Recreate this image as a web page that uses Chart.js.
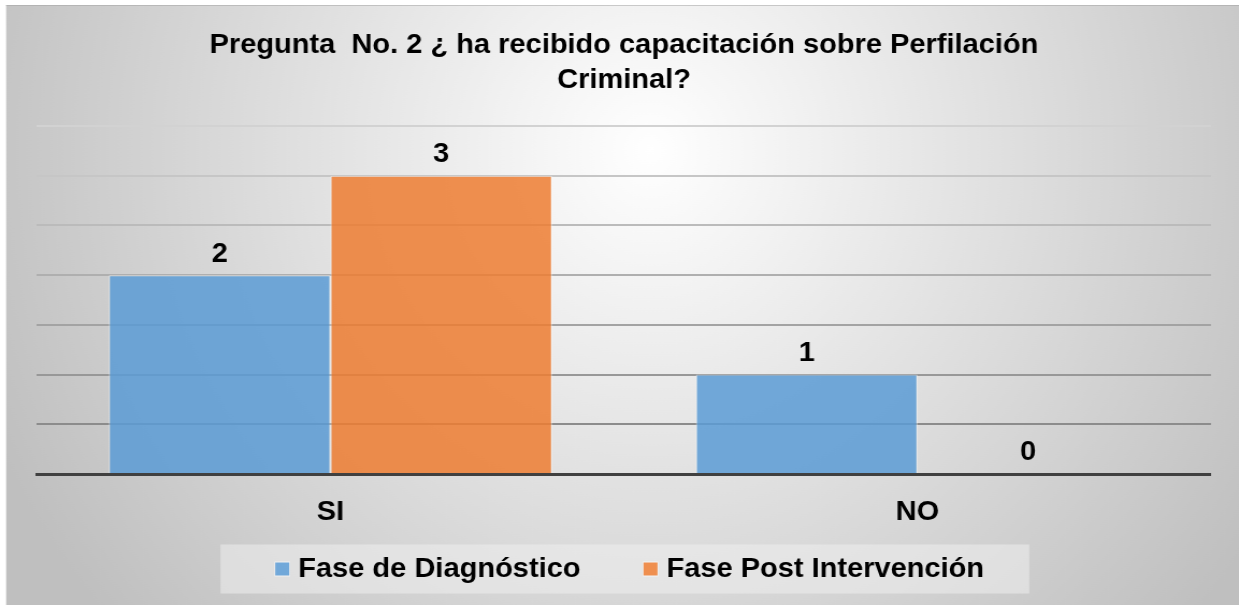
<!DOCTYPE html>
<html>
<head>
<meta charset="utf-8">
<title>Pregunta No. 2</title>
<script src="https://cdn.jsdelivr.net/npm/chart.js@4"></script>
<style>
  body { margin: 0; background: #ffffff; }
  #grafico { display: block; }
</style>
</head>
<body>
<!-- el original esta un poco estirado a lo ancho: se dibuja a 1153px y se muestra a 1239px -->
<canvas id="grafico" width="1153" height="605" style="width:1239px;height:605px"></canvas>
<script>
// datos del grafico
const categorias = ["SI", "NO"];
const diagnostico = [2, 1];
const postIntervencion = [3, 0];
const series = ["Fase de Diagnóstico", "Fase Post Intervención"];
const tituloLineas = ["Pregunta  No. 2 ¿ ha recibido capacitación sobre Perfilación", "Criminal?"];

const fuente = "'Liberation Sans', Arial, sans-serif";
const estiramiento = 1239 / 1153;

// fondo degradado
const fondoPlugin = {
    id: 'fondo',
    beforeDraw(chart) {
        const ctx = chart.ctx;
        const w = chart.width, h = chart.height;
        ctx.save();
        ctx.fillStyle = '#ffffff';
        ctx.fillRect(0, 0, w, h);
        ctx.translate(605, 150);
        ctx.scale(1 / estiramiento, 1);
        const g = ctx.createRadialGradient(0, 0, 0, 0, 0, 720);
        g.addColorStop(0, '#ffffff');
        g.addColorStop(1, '#bfbfbf');
        ctx.fillStyle = g;
        ctx.fillRect(-650 + 6, -150 + 5, 1239, 605);
        ctx.restore();
        ctx.save();
        ctx.fillStyle = 'rgba(160,160,160,0.5)';
        ctx.fillRect(5.6, 5, w, 1);
        ctx.restore();
    }
};

// leyenda propia (la de Chart.js no deja separar el espacio horizontal del vertical)
const leyendaPlugin = {
    id: 'leyendaPropia',
    afterDraw(chart) {
        const ctx = chart.ctx;
        const cy = chart.height - 36;
        const cuadro = 13, hueco = 8.4, separacion = 58.7;
        ctx.save();
        ctx.font = "bold 27px " + fuente;
        const anchos = chart.data.datasets.map(ds => ctx.measureText(ds.label).width);
        let total = 0;
        anchos.forEach((a, i) => { total += cuadro + hueco + a + (i ? separacion : 0); });
        let x = 586 - total / 2;
        ctx.fillStyle = 'rgba(238,238,238,0.55)';
        ctx.fillRect(x - 51, cy - 24.5, total + 51 + 42, 49);
        ctx.textBaseline = 'middle';
        ctx.textAlign = 'left';
        chart.data.datasets.forEach((ds, i) => {
            ctx.fillStyle = 'rgba(255,255,255,0.6)';
            ctx.fillRect(x - 0.7, cy - 7.5, cuadro + 1.4, 15);
            ctx.fillStyle = ds.backgroundColor;
            ctx.fillRect(x, cy - 6.5, cuadro, 13);
            ctx.fillStyle = '#000000';
            ctx.fillText(ds.label, x + cuadro + hueco, cy + 1);
            x += cuadro + hueco + anchos[i] + separacion;
        });
        ctx.restore();
    }
};

// etiquetas de valor encima de cada barra
const etiquetasPlugin = {
    id: 'etiquetas',
    afterDatasetsDraw(chart) {
        const ctx = chart.ctx;
        ctx.save();
        ctx.font = "bold 27px " + fuente;
        ctx.fillStyle = '#000000';
        ctx.textAlign = 'center';
        ctx.textBaseline = 'middle';
        chart.data.datasets.forEach(function (ds, i) {
            const meta = chart.getDatasetMeta(i);
            meta.data.forEach(function (barra, j) {
                ctx.fillText(String(ds.data[j]), barra.x, barra.y - 21);
            });
        });
        ctx.restore();
    }
};

function colorGrid(ctx) {
    const v = ctx.tick ? ctx.tick.value : 0;
    const t = Math.min(1, Math.max(0, (v - 0.5) / 3));
    const c = Math.round(140 + t * 70);
    return 'rgb(' + c + ',' + c + ',' + c + ')';
}

new Chart(document.getElementById('grafico'), {
    type: 'bar',
    data: {
        labels: categorias,
        datasets: [
            {
                label: series[0],
                data: diagnostico,
                backgroundColor: 'rgba(91,155,213,0.85)',
                borderColor: 'rgba(255,255,255,0.6)',
                borderWidth: 1
            },
            {
                label: series[1],
                data: postIntervencion,
                backgroundColor: 'rgba(237,125,49,0.85)',
                borderColor: 'rgba(255,255,255,0.6)',
                borderWidth: 1
            }
        ]
    },
    options: {
        responsive: false,
        devicePixelRatio: 1,
        animation: false,
        layout: { padding: { top: 5, left: 34.4, right: 26.1, bottom: 53 } },
        datasets: { bar: { categoryPercentage: 0.755, barPercentage: 1.0 } },
        plugins: {
            title: {
                display: true,
                text: tituloLineas,
                color: '#000000',
                font: { family: fuente, size: 27, weight: 'bold', lineHeight: 1.3 },
                padding: { top: 22.5, bottom: 28.3 }
            },
            legend: { display: false },
            tooltip: { enabled: false }
        },
        scales: {
            x: {
                grid: { display: false, drawTicks: false },
                border: { display: true, color: '#404040', width: 3 },
                ticks: {
                    color: '#000000',
                    font: { family: fuente, size: 27, weight: 'bold' },
                    padding: 22.8
                }
            },
            y: {
                min: 0,
                max: 3.5,
                ticks: { display: false, stepSize: 0.5 },
                grid: { color: colorGrid, lineWidth: 2, drawTicks: false },
                border: { display: false }
            }
        }
    },
    plugins: [fondoPlugin, etiquetasPlugin, leyendaPlugin]
});
</script>
</body>
</html>
